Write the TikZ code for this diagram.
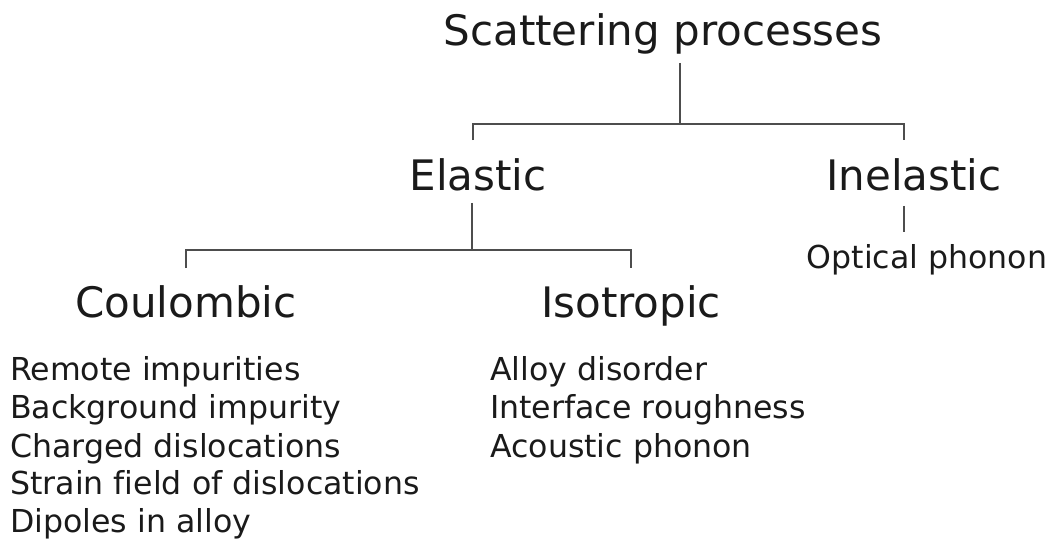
\documentclass[tikz,border=0pt]{standalone}
\usepackage{fontspec}
\setmainfont[Ligatures=NoCommon]{DejaVu Sans}
\definecolor{textgray}{HTML}{1A1A1A}
\definecolor{linegray}{HTML}{4D4D4D}
\begin{document}
\begin{tikzpicture}
        [x=1pt,y=-1pt,
        headdecorate/.style={font=\fontsize{42}{50}\selectfont,anchor=base,inner sep=0pt,text=textgray},%
        itemdecorate/.style={font=\fontsize{31.6}{38}\selectfont,anchor=base west,inner sep=0pt,text=textgray},%
        linedecorate/.style={-,draw=linegray,line width=2.4pt}]
        \useasboundingbox (0,0) rectangle (1051,539);
        %% headings
        \foreach \nodename/\x/\y/\caption in {scat/663/45/Scattering processes,
          elastic/478/190/Elastic, inelastic/914/190/Inelastic,
          coul/186/317/Coulombic, iso/631/317/Isotropic}
        {
          \node (\nodename) at (\x,\y) [headdecorate] {\caption};
        }
        \node (optical) at (927,268) [itemdecorate,anchor=base] {Optical phonon};
        %% lists under the headings
        \foreach \nodename/\x/\y/\caption in {remote/10/380/Remote impurities,
          background/10/418/Background impurity, charged/10/457/Charged dislocations,
          strain/10/494/Strain field of dislocations, dipoles/10/532/Dipoles in alloy,
          alloy/490/380/Alloy disorder, interface/490/418/Interface roughness,
          acoustic/490/457/Acoustic phonon}
        {
          \node (\nodename) at (\x,\y) [itemdecorate] {\caption};
        }
        %% joints of the tree
        \coordinate (scatjoin) at (680,124);
        \coordinate (elastictop) at (473,140);
        \coordinate (inelastictop) at (904,140);
        \coordinate (elasticjoin) at (472,250);
        \coordinate (coultop) at (186,268);
        \coordinate (isotop) at (631,268);
        %% edges or lines
        \draw[linedecorate,shorten <=9pt] (scat.south -| scatjoin) -- (scatjoin);
        \draw[linedecorate] (elastictop) |- (scatjoin) -| (inelastictop);
        \draw[linedecorate,shorten <=12pt] (elastic.south -| elasticjoin) -- (elasticjoin);
        \draw[linedecorate] (coultop) |- (elasticjoin) -| (isotop);
        \draw[linedecorate,shorten <=15pt,shorten >=12pt] (inelastic.south -| inelastictop) -- (optical.north -| inelastictop);
\end{tikzpicture}
\end{document}
